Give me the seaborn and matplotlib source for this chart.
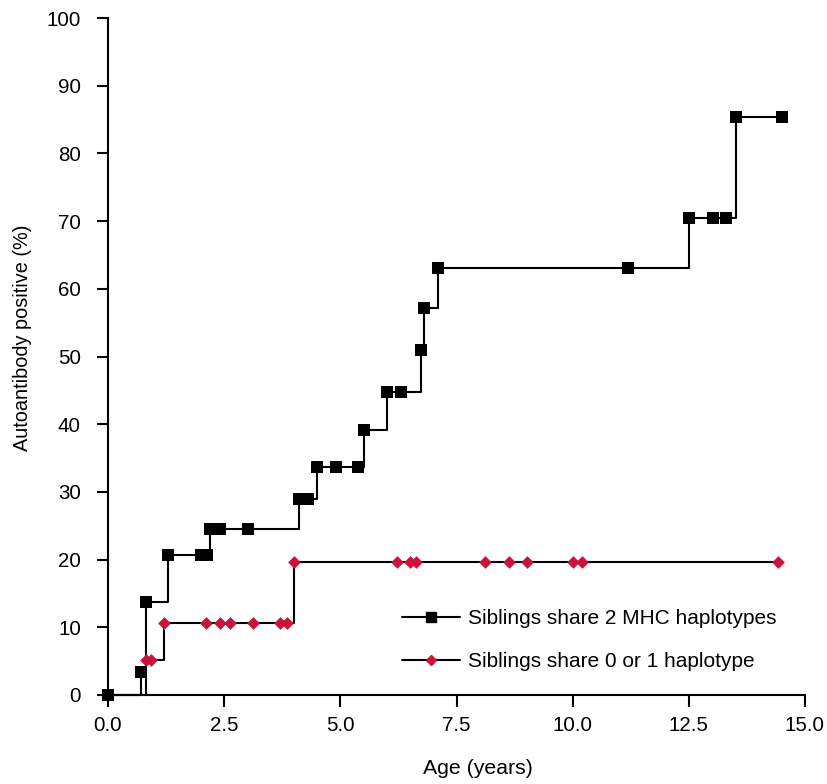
import matplotlib
matplotlib.use("Agg")
import matplotlib.pyplot as plt
from matplotlib.lines import Line2D
import seaborn as sns
import pandas as pd

# ---- data ----
two_x = [0.0, 0.71, 0.81, 1.30, 2.00, 2.12, 2.20, 2.40, 3.01, 4.11, 4.30, 4.50, 4.90,
         5.38, 5.50, 6.01, 6.30, 6.73, 6.81, 7.11, 11.20, 12.51, 13.01, 13.31, 13.51, 14.51]
two_y = [0.0, 3.4, 13.7, 20.7, 20.7, 20.7, 24.5, 24.5, 24.5, 29.0, 29.0, 33.7, 33.7,
         33.7, 39.2, 44.7, 44.7, 50.9, 57.1, 63.1, 63.1, 70.5, 70.5, 70.5, 85.4, 85.4]

one_x = [0.0, 0.81, 0.92, 1.21, 2.11, 2.41, 2.63, 3.11, 3.70, 3.85, 4.00,
         6.21, 6.51, 6.63, 8.12, 8.62, 9.02, 10.01, 10.21, 14.42]
one_y = [0.0, 5.1, 5.1, 10.7, 10.7, 10.7, 10.7, 10.7, 10.7, 10.7, 19.6,
         19.6, 19.6, 19.6, 19.6, 19.6, 19.6, 19.6, 19.6, 19.6]

labels = ["Siblings share 2 MHC haplotypes", "Siblings share 0 or 1 haplotype"]
x_ticks = [0.0, 2.5, 5.0, 7.5, 10.0, 12.5, 15.0]
y_ticks = [0, 10, 20, 30, 40, 50, 60, 70, 80, 90, 100]

RED = "#C8143A"

sns.set_style("ticks")
plt.rcParams["font.family"] = ["Liberation Sans", "DejaVu Sans"]
plt.rcParams["text.color"] = "black"
plt.rcParams["axes.labelcolor"] = "black"

df_two = pd.DataFrame({"x": two_x, "y": two_y})
df_one = pd.DataFrame({"x": one_x, "y": one_y})

fig = plt.figure(figsize=(8.27, 7.84), dpi=100)
ax = fig.add_axes([108 / 827, 89 / 784, 697 / 827, 677 / 784])

# step lines
sns.lineplot(data=df_two, x="x", y="y", ax=ax, color="black", lw=1.5,
             drawstyle="steps-post", estimator=None, sort=False, clip_on=False, zorder=2)
sns.lineplot(data=df_one, x="x", y="y", ax=ax, color="black", lw=1.5,
             drawstyle="steps-post", estimator=None, sort=False, clip_on=False, zorder=3)
# markers
sns.scatterplot(data=df_two, x="x", y="y", ax=ax, marker="s", s=68, color="black",
                linewidth=0, clip_on=False, zorder=4)
sns.scatterplot(data=df_one.iloc[1:], x="x", y="y", ax=ax, marker="D", s=42, color=RED,
                linewidth=0, clip_on=False, zorder=5)

ax.set_xlim(0, 15)
ax.set_ylim(0, 100)
ax.set_xticks(x_ticks)
ax.set_xticklabels([f"{t:.1f}" for t in x_ticks])
ax.set_yticks(y_ticks)
ax.set_yticklabels([str(t) for t in y_ticks])
ax.tick_params(axis="x", length=8.5, width=1.5, labelsize=14.8, colors="black", pad=6.5)
ax.tick_params(axis="y", length=8.0, width=1.5, labelsize=14.8, colors="black", pad=11.5)
for s in ["left", "bottom"]:
    ax.spines[s].set_linewidth(1.5)
    ax.spines[s].set_color("black")
sns.despine(ax=ax)

ax.set_xlabel("Age (years)", fontsize=15.3, color="black")
ax.set_ylabel("Autoantibody positive (%)", fontsize=14.3, color="black")
ax.xaxis.set_label_coords((478 - 108) / 697, (695 - 759) / 677)
ax.yaxis.set_label_coords((32 - 108) / 697, (695 - 337.5) / 677)

handles = [
    Line2D([], [], color="black", lw=1.5, marker="s", ms=7.3, mfc="black", mec="black"),
    Line2D([], [], color="black", lw=1.5, marker="D", ms=5.6, mfc=RED, mec=RED),
]
ax.legend(handles, labels, loc="upper left", bbox_to_anchor=(0.4218, 0.127),
          frameon=False, fontsize=15, handlelength=2.78, handletextpad=0.38,
          labelspacing=1.16, borderpad=0, borderaxespad=0, labelcolor="black")

fig.savefig("out.png", dpi=100)
